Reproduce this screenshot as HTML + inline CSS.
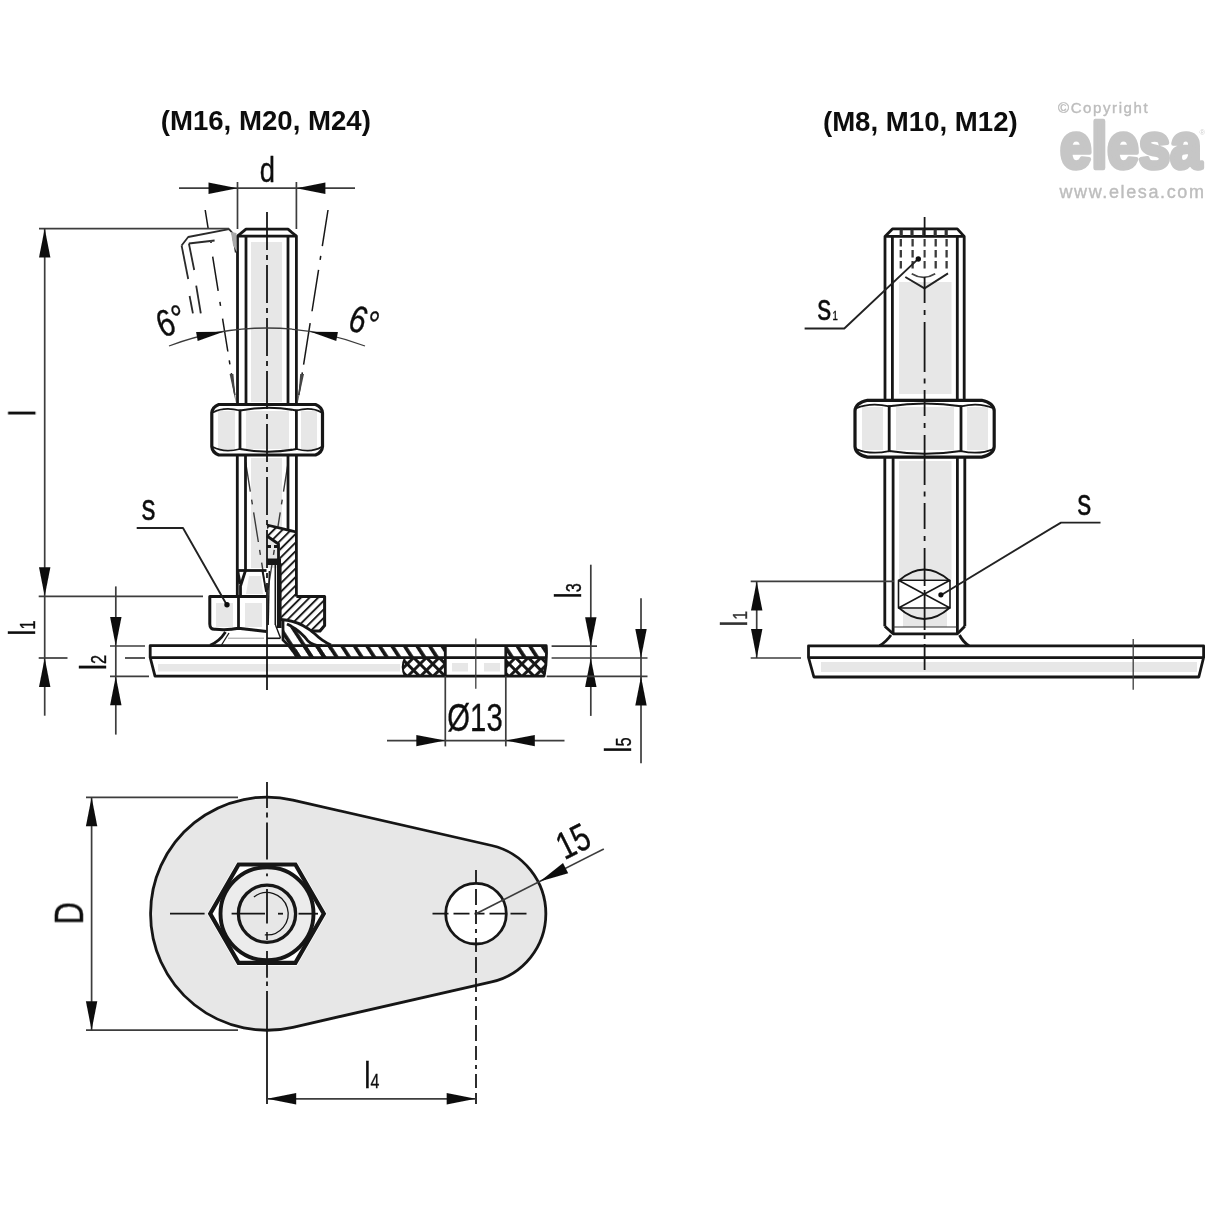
<!DOCTYPE html>
<html><head><meta charset="utf-8"><title>Drawing</title>
<style>
html,body{margin:0;padding:0;background:#fff;}
svg{display:block;font-family:"Liberation Sans",sans-serif;}
</style></head><body>
<svg width="1214" height="1214" viewBox="0 0 1214 1214">
<defs>
<pattern id="h45" width="7" height="7" patternUnits="userSpaceOnUse" patternTransform="rotate(-45)"><line x1="0" y1="0" x2="7" y2="0" stroke="#161616" stroke-width="2.6"/></pattern>
<pattern id="h45b" width="6.1" height="6.1" patternUnits="userSpaceOnUse" patternTransform="rotate(-45)"><line x1="0" y1="1" x2="6.1" y2="1" stroke="#161616" stroke-width="1.9"/></pattern>
<pattern id="h135" width="10.5" height="10.5" patternUnits="userSpaceOnUse" patternTransform="rotate(57)"><line x1="0" y1="2" x2="10.5" y2="2" stroke="#161616" stroke-width="3.7"/></pattern>
<pattern id="xh" width="9" height="9" patternUnits="userSpaceOnUse" patternTransform="rotate(45)"><path d="M0 1.5H9M1.5 0V9" stroke="#161616" stroke-width="2.9"/></pattern>
<filter id="soft" x="-2%" y="-2%" width="104%" height="104%"><feGaussianBlur stdDeviation="0.5"/></filter>
</defs>
<rect width="1214" height="1214" fill="#fff"/>
<g filter="url(#soft)">
<text transform="translate(265.8,129.6) rotate(0) scale(1,1)" font-size="27.6" text-anchor="middle" font-weight="bold" fill="#111" stroke="#111" stroke-width="0">(M16, M20, M24)</text>
<text transform="translate(920.3,130.5) rotate(0) scale(1,1)" font-size="27.6" text-anchor="middle" font-weight="bold" fill="#111" stroke="#111" stroke-width="0">(M8, M10, M12)</text>
<text x="1058" y="113" font-size="15" fill="#bdbdbd" stroke="#bdbdbd" stroke-width="0.4" letter-spacing="1.6">©Copyright</text>
<text transform="translate(1060,167.8) scale(0.885,1)" font-size="64" font-weight="bold" fill="#c6c6c6" stroke="#c6c6c6" stroke-width="4.6" stroke-linejoin="round" letter-spacing="0">elesa</text>
<text x="1059.5" y="197.6" font-size="18" fill="#bdbdbd" stroke="#bdbdbd" stroke-width="0.4" letter-spacing="1.62">www.elesa.com</text>
<text x="1199.5" y="134.5" font-size="7.5" fill="#cfcfcf">®</text>
<rect x="251.0" y="242.0" width="31.0" height="160.0" fill="#e7e7e7"/>
<rect x="251.0" y="458.0" width="31.0" height="110.0" fill="#e7e7e7"/>
<rect x="218.0" y="411.0" width="17.0" height="38.0" fill="#e7e7e7"/>
<rect x="246.0" y="411.0" width="43.0" height="38.0" fill="#e7e7e7"/>
<rect x="301.0" y="411.0" width="16.0" height="38.0" fill="#e7e7e7"/>
<rect x="216.0" y="603.0" width="17.0" height="24.0" fill="#e7e7e7"/>
<rect x="245.0" y="603.0" width="17.0" height="24.0" fill="#e7e7e7"/>
<polygon points="249,576 261,576 263,594 246,594" fill="#e7e7e7"/>
<rect x="158.0" y="664.0" width="242.0" height="7.5" fill="#e7e7e7"/>
<rect x="452.0" y="663.0" width="16.0" height="8.5" fill="#e7e7e7"/>
<rect x="484.0" y="663.0" width="16.0" height="8.5" fill="#e7e7e7"/>
<path d="M237.5 404 V236.2 L246 229.2 H288 L296.4 236.2 V404" stroke="#161616" stroke-width="2.8" fill="none" stroke-linejoin="round"/>
<line x1="237.5" y1="236.2" x2="296.4" y2="236.2" stroke="#161616" stroke-width="2.8" stroke-linecap="butt"/>
<line x1="246.0" y1="236.2" x2="246.0" y2="404.0" stroke="#161616" stroke-width="2.8" stroke-linecap="butt"/>
<line x1="288.0" y1="236.2" x2="288.0" y2="404.0" stroke="#161616" stroke-width="2.8" stroke-linecap="butt"/>
<path d="M211.8 413.0 Q212.3 407.0 218.8 404.5 H315.5 Q322.0 407.0 322.5 413.0 V446.5 Q322.0 452.5 315.5 455 H218.8 Q212.3 452.5 211.8 446.5 Z" stroke="#161616" stroke-width="3.2" fill="none" stroke-linejoin="round"/>
<line x1="240.0" y1="409.5" x2="240.0" y2="450.0" stroke="#161616" stroke-width="2.8" stroke-linecap="butt"/>
<line x1="296.4" y1="409.5" x2="296.4" y2="450.0" stroke="#161616" stroke-width="2.8" stroke-linecap="butt"/>
<path d="M240 410.5 Q268.2 405.0 296.4 410.5" stroke="#161616" stroke-width="2.0" fill="none" stroke-linejoin="round"/>
<path d="M240 449 Q268.2 454.5 296.4 449" stroke="#161616" stroke-width="2.0" fill="none" stroke-linejoin="round"/>
<path d="M212.8 412.5 Q223.9 406.5 240 410.5" stroke="#161616" stroke-width="1.8" fill="none" stroke-linejoin="round"/>
<path d="M321.5 412.5 Q311.45 406.5 296.4 410.5" stroke="#161616" stroke-width="1.8" fill="none" stroke-linejoin="round"/>
<path d="M212.8 447 Q223.9 453 240 449" stroke="#161616" stroke-width="1.8" fill="none" stroke-linejoin="round"/>
<path d="M321.5 447 Q311.45 453 296.4 449" stroke="#161616" stroke-width="1.8" fill="none" stroke-linejoin="round"/>
<path d="M266.5 596.5 H209.8 V624 Q209.8 629.5 215 629.3 Q228 630.5 238.4 628.3 L266.5 631.5" stroke="#161616" stroke-width="3.0" fill="none" stroke-linejoin="round"/>
<line x1="238.5" y1="596.5" x2="238.5" y2="629.0" stroke="#161616" stroke-width="2.8" stroke-linecap="butt"/>
<path d="M225.5 632 Q219 642 210 645.2" stroke="#161616" stroke-width="2.8" fill="none" stroke-linejoin="round"/>
<path d="M229 633 L221.5 645" stroke="#161616" stroke-width="1.3" fill="none" stroke-linejoin="round"/>
<line x1="228.0" y1="638.2" x2="264.0" y2="638.2" stroke="#9a9a9a" stroke-width="1" stroke-linecap="butt"/>
<line x1="245.6" y1="462" x2="266.0" y2="590" stroke="#3a3a3a" stroke-width="1.4" stroke-dasharray="30 8 5 8"/>
<line x1="288.2" y1="462" x2="267.9" y2="590" stroke="#3a3a3a" stroke-width="1.4" stroke-dasharray="30 8 5 8"/>
<path d="M267 525 L296.4 532 V596.5 H324.6 V625.5 L320 631 H312 Q298 620.5 281 619.5 V565 H279.5 V545 L267 536 Z" stroke="none" stroke-width="0.1" fill="#fff" stroke-linejoin="round"/>
<path d="M267 525 L296.4 532 V596.5 H324.6 V625.5 L320 631 H312 Q298 620.5 281 619.5 V565 H279.5 V545 L267 536 Z" stroke="none" stroke-width="0.1" fill="url(#h45b)" stroke-linejoin="round"/>
<path d="M267 525 L296.4 532" stroke="#161616" stroke-width="2.8" fill="none" stroke-linejoin="round"/>
<path d="M296.4 596.5 H324.6 V625.5 L320 631 H311" stroke="#161616" stroke-width="3.0" fill="none" stroke-linejoin="round"/>
<path d="M281 619.5 Q300 620.5 315 634 Q322 641 331 645" stroke="#161616" stroke-width="2.8" fill="none" stroke-linejoin="round"/>
<rect x="267.0" y="558.5" width="14.0" height="6.5" fill="#161616"/>
<line x1="279.3" y1="563.0" x2="279.3" y2="628.0" stroke="#161616" stroke-width="4.6" stroke-linecap="butt"/>
<line x1="275.3" y1="565.0" x2="275.3" y2="625.0" stroke="#161616" stroke-width="1.6" stroke-linecap="butt"/>
<path d="M269.3 571 L268.2 625" stroke="#161616" stroke-width="1.4" fill="none" stroke-linejoin="round"/>
<path d="M267 536 L278.5 544 V559" stroke="#161616" stroke-width="2.8" fill="none" stroke-linejoin="round"/>
<line x1="267.0" y1="546.5" x2="278.0" y2="546.5" stroke="#161616" stroke-width="2.8" stroke-dasharray="4 3" stroke-linecap="butt"/>
<path d="M267 638.3 H280.5" stroke="#161616" stroke-width="1.6" fill="none" stroke-linejoin="round"/>
<path d="M275.5 625 L280.5 638" stroke="#161616" stroke-width="1.4" fill="none" stroke-linejoin="round"/>
<path d="M283 625 Q297 627 309 641 Q313 645.5 322 645.5 H330 V657.6 H297 Q289 646 283 640 Z" stroke="none" stroke-width="0.1" fill="#fff" stroke-linejoin="round"/>
<path d="M283 625 Q297 627 309 641 Q313 645.5 322 645.5 H330 V657.6 H297 Q289 646 283 640 Z" stroke="none" stroke-width="0.1" fill="url(#h135)" stroke-linejoin="round"/>
<path d="M283 621 V640 Q291 647 297 657.6" stroke="#161616" stroke-width="2.8" fill="none" stroke-linejoin="round"/>
<path d="M287 624 Q300 630 308 641 Q313 646 322 645.5" stroke="#161616" stroke-width="2.8" fill="none" stroke-linejoin="round"/>
<line x1="237.3" y1="455.0" x2="237.3" y2="596.5" stroke="#161616" stroke-width="2.8" stroke-linecap="butt"/>
<line x1="245.5" y1="455.0" x2="245.5" y2="570.5" stroke="#161616" stroke-width="2.8" stroke-linecap="butt"/>
<line x1="288.0" y1="455.0" x2="288.0" y2="531.0" stroke="#161616" stroke-width="2.8" stroke-linecap="butt"/>
<line x1="296.4" y1="455.0" x2="296.4" y2="596.5" stroke="#161616" stroke-width="2.8" stroke-linecap="butt"/>
<line x1="237.3" y1="570.5" x2="266.5" y2="570.5" stroke="#161616" stroke-width="2.8" stroke-linecap="butt"/>
<path d="M245.5 570.5 L240.5 586 V596.5" stroke="#161616" stroke-width="2.8" fill="none" stroke-linejoin="round"/>
<path d="M237.6 571 L240 584" stroke="#161616" stroke-width="3.1" fill="none" stroke-linejoin="round"/>
<path d="M262.3 570.5 L266 592" stroke="#161616" stroke-width="1.6" fill="none" stroke-linejoin="round"/>
<rect x="296.0" y="646.0" width="149.3" height="11.6" fill="url(#h135)"/>
<rect x="505.8" y="646.0" width="40.0" height="11.6" fill="url(#h135)"/>
<path d="M405 657.6 H445.3 V676.2 H405 Q400.5 667 405 657.6 Z" fill="url(#xh)"/>
<path d="M505.8 657.6 H546 L544 676.2 H505.8 Z" fill="url(#xh)"/>
<path d="M405 657.6 Q400.5 667 405 676.2" stroke="#161616" stroke-width="2" fill="none" stroke-linejoin="round"/>
<path d="M150.2 645.6 H546.2 Q547.4 661 544 676.2 H155 L150.2 657.5 Z" stroke="#161616" stroke-width="2.8" fill="none" stroke-linejoin="round"/>
<line x1="150.2" y1="657.6" x2="546.5" y2="657.6" stroke="#161616" stroke-width="2.8" stroke-linecap="butt"/>
<line x1="445.3" y1="645.6" x2="445.3" y2="676.2" stroke="#161616" stroke-width="2.8" stroke-linecap="butt"/>
<line x1="505.8" y1="645.6" x2="505.8" y2="676.2" stroke="#161616" stroke-width="2.8" stroke-linecap="butt"/>
<line x1="267.0" y1="212.0" x2="267.0" y2="596.0" stroke="#161616" stroke-width="1.8" stroke-dasharray="38 5 5 5" stroke-linecap="butt"/>
<line x1="267.0" y1="596.0" x2="267.0" y2="690.0" stroke="#161616" stroke-width="1.8" stroke-linecap="butt"/>
<line x1="475.8" y1="638.5" x2="475.8" y2="688.7" stroke="#3c3c3c" stroke-width="1.3" stroke-linecap="butt"/>
<line x1="205.2" y1="210" x2="234.8" y2="395" stroke="#161616" stroke-width="1.5" stroke-dasharray="18.6 28.7 34.7 11 4 12.9 33.4 9 4 9 40"/>
<polygon points="233.4,374 229.6,374 235.9,403" fill="#444"/>
<line x1="328.0" y1="210" x2="298.8" y2="395" stroke="#161616" stroke-width="1.5" stroke-dasharray="36.5 10 4 10 42 12 42 8 4 8 30"/>
<polygon points="300.2,374 304.0,374 297.7,403" fill="#444"/>
<path d="M169.0 346.0 A276 276 0 0 1 365.0 346.0" stroke="#3c3c3c" stroke-width="1.3" fill="none" stroke-linejoin="round"/>
<polygon points="223.5,331.8 197.7,340.9 196.1,332.1" fill="#111"/>
<polygon points="310.5,331.8 337.9,332.1 336.3,340.9" fill="#111"/>
<text transform="translate(176.0,333.0) rotate(-22) scale(0.78,1)" font-size="38" text-anchor="middle" font-weight="normal" fill="#111" stroke="#111" stroke-width="0.35">6°</text>
<text transform="translate(359.5,333.5) rotate(20) scale(0.78,1)" font-size="38" text-anchor="middle" font-weight="normal" fill="#111" stroke="#111" stroke-width="0.35">6°</text>
<path d="M181.6 245.5 L188.2 237 L229 229.2 L232.5 233 L235.8 252.5" stroke="#2a2a2a" stroke-width="1.8" fill="none" stroke-linejoin="round"/>
<path d="M181.6 245.5 L188.2 279" stroke="#2a2a2a" stroke-width="1.8" fill="none" stroke-linejoin="round"/>
<path d="M189.6 296 L192.9 313.4" stroke="#2a2a2a" stroke-width="1.8" fill="none" stroke-linejoin="round"/>
<path d="M188.9 243.5 L194.2 270" stroke="#2a2a2a" stroke-width="1.8" fill="none" stroke-linejoin="round"/>
<path d="M196.2 285.7 L200.8 313.4" stroke="#2a2a2a" stroke-width="1.8" fill="none" stroke-linejoin="round"/>
<path d="M188.9 243.5 L214.6 240.5" stroke="#2a2a2a" stroke-width="1.8" fill="none" stroke-linejoin="round"/>
<path d="M211 240.6 V243" stroke="#444" stroke-width="2" fill="none" stroke-linejoin="round"/>
<polygon points="231,232 236.5,233 236.8,252 233,245" fill="#aaa"/>
<line x1="237.5" y1="182.0" x2="237.5" y2="229.0" stroke="#3c3c3c" stroke-width="1.7" stroke-linecap="butt"/>
<line x1="296.4" y1="182.0" x2="296.4" y2="229.0" stroke="#3c3c3c" stroke-width="1.7" stroke-linecap="butt"/>
<line x1="179.0" y1="188.2" x2="355.0" y2="188.2" stroke="#3c3c3c" stroke-width="1.7" stroke-linecap="butt"/>
<polygon points="237.5,188.2 208.5,193.9 208.5,182.5" fill="#111"/>
<polygon points="296.4,188.2 325.4,182.5 325.4,193.9" fill="#111"/>
<text transform="translate(267.3,181.6) rotate(0) scale(0.76,1)" font-size="36" text-anchor="middle" font-weight="normal" fill="#111" stroke="#111" stroke-width="0.35">d</text>
<line x1="39.0" y1="228.6" x2="229.0" y2="228.6" stroke="#3c3c3c" stroke-width="1.7" stroke-linecap="butt"/>
<line x1="44.7" y1="228.6" x2="44.7" y2="596.3" stroke="#3c3c3c" stroke-width="1.7" stroke-linecap="butt"/>
<polygon points="44.7,228.6 50.4,257.6 39.0,257.6" fill="#111"/>
<polygon points="44.7,596.3 39.0,567.3 50.4,567.3" fill="#111"/>
<line x1="38.7" y1="596.3" x2="203.0" y2="596.3" stroke="#3c3c3c" stroke-width="1.7" stroke-linecap="butt"/>
<text transform="translate(35.3,416.2) rotate(-90) scale(0.76,1)" font-size="37" text-anchor="start" font-weight="normal" fill="#111" stroke="#111" stroke-width="0.35">l</text>
<line x1="38.7" y1="658.0" x2="67.5" y2="658.0" stroke="#3c3c3c" stroke-width="1.7" stroke-linecap="butt"/>
<line x1="44.7" y1="596.3" x2="44.7" y2="715.7" stroke="#3c3c3c" stroke-width="1.7" stroke-linecap="butt"/>
<polygon points="44.7,658.0 50.4,687.0 39.0,687.0" fill="#111"/>
<text transform="translate(35.4,635.8) rotate(-90) scale(0.76,1)" font-size="37" text-anchor="start" font-weight="normal" fill="#111" stroke="#111" stroke-width="0.35">l<tspan font-size="21.5">1</tspan></text>
<line x1="115.8" y1="586.4" x2="115.8" y2="734.6" stroke="#3c3c3c" stroke-width="1.7" stroke-linecap="butt"/>
<polygon points="115.8,646.0 110.1,617.0 121.5,617.0" fill="#111"/>
<polygon points="115.8,676.2 121.5,705.2 110.1,705.2" fill="#111"/>
<line x1="110.0" y1="646.0" x2="145.0" y2="646.0" stroke="#3c3c3c" stroke-width="1.7" stroke-linecap="butt"/>
<line x1="125.0" y1="658.0" x2="145.0" y2="658.0" stroke="#3c3c3c" stroke-width="1.7" stroke-linecap="butt"/>
<line x1="110.0" y1="676.4" x2="149.0" y2="676.4" stroke="#3c3c3c" stroke-width="1.7" stroke-linecap="butt"/>
<text transform="translate(106.3,670.3) rotate(-90) scale(0.76,1)" font-size="37" text-anchor="start" font-weight="normal" fill="#111" stroke="#111" stroke-width="0.35">l<tspan font-size="21.5">2</tspan></text>
<path d="M136.7 528 H183 L226.3 604" stroke="#222" stroke-width="1.9" fill="none" stroke-linejoin="round"/>
<circle cx="227.0" cy="604.8" r="2.7" stroke="none" stroke-width="0" fill="#111"/>
<text transform="translate(148.6,520.0) rotate(0) scale(0.76,1)" font-size="37" text-anchor="middle" font-weight="normal" fill="#111" stroke="#111" stroke-width="0.35">s</text>
<line x1="590.8" y1="564.7" x2="590.8" y2="715.9" stroke="#3c3c3c" stroke-width="1.7" stroke-linecap="butt"/>
<polygon points="590.8,646.2 585.1,617.2 596.5,617.2" fill="#111"/>
<polygon points="590.8,658.0 596.5,687.0 585.1,687.0" fill="#111"/>
<line x1="551.6" y1="646.2" x2="597.0" y2="646.2" stroke="#3c3c3c" stroke-width="1.7" stroke-linecap="butt"/>
<line x1="551.6" y1="658.0" x2="647.5" y2="658.0" stroke="#3c3c3c" stroke-width="1.7" stroke-linecap="butt"/>
<line x1="546.7" y1="676.4" x2="647.5" y2="676.4" stroke="#3c3c3c" stroke-width="1.7" stroke-linecap="butt"/>
<text transform="translate(581.3,598.6) rotate(-90) scale(0.76,1)" font-size="37" text-anchor="start" font-weight="normal" fill="#111" stroke="#111" stroke-width="0.35">l<tspan font-size="21.5">3</tspan></text>
<line x1="641.0" y1="598.3" x2="641.0" y2="763.3" stroke="#3c3c3c" stroke-width="1.7" stroke-linecap="butt"/>
<polygon points="641.0,658.0 635.3,629.0 646.7,629.0" fill="#111"/>
<polygon points="641.0,676.4 646.7,705.4 635.3,705.4" fill="#111"/>
<text transform="translate(630.7,752.8) rotate(-90) scale(0.76,1)" font-size="37" text-anchor="start" font-weight="normal" fill="#111" stroke="#111" stroke-width="0.35">l<tspan font-size="21.5">5</tspan></text>
<line x1="445.3" y1="676.0" x2="445.3" y2="746.4" stroke="#3c3c3c" stroke-width="1.7" stroke-linecap="butt"/>
<line x1="505.8" y1="676.0" x2="505.8" y2="746.4" stroke="#3c3c3c" stroke-width="1.7" stroke-linecap="butt"/>
<line x1="387.0" y1="740.6" x2="564.5" y2="740.6" stroke="#3c3c3c" stroke-width="1.7" stroke-linecap="butt"/>
<polygon points="445.3,740.6 416.3,746.3 416.3,734.9" fill="#111"/>
<polygon points="505.8,740.6 534.8,734.9 534.8,746.3" fill="#111"/>
<text transform="translate(475.0,730.7) rotate(0) scale(0.76,1)" font-size="38.5" text-anchor="middle" font-weight="normal" fill="#111" stroke="#111" stroke-width="0.35">Ø13</text>
<path d="M292.9 800.1 L491.6 845.5 A70 70 0 0 1 491.6 981.9 L292.9 1027.3 A116.5 116.5 0 1 1 292.9 800.1 Z" stroke="#161616" stroke-width="2.8" fill="#e7e7e7" stroke-linejoin="round"/>
<circle cx="476.0" cy="913.7" r="30.3" stroke="#161616" stroke-width="2.8" fill="#fff"/>
<polygon points="327.0,913.7 297.0,965.7 237.0,965.7 207.0,913.7 237.0,861.7 297.0,861.7" fill="#fff"/>
<polygon points="323.8,913.7 295.4,962.9 238.6,962.9 210.2,913.7 238.6,864.5 295.4,864.5" fill="none" stroke="#161616" stroke-width="4.2" stroke-linejoin="miter"/>
<circle cx="267.0" cy="913.7" r="46.5" stroke="#161616" stroke-width="3.9" fill="#ececec"/>
<circle cx="267.0" cy="913.7" r="28.6" stroke="#161616" stroke-width="3.3" fill="#e7e7e7"/>
<path d="M253.9 897.0 A21.2 21.2 0 1 1 264.8 934.8" stroke="#161616" stroke-width="1.3" fill="none" stroke-linejoin="round"/>
<line x1="170.0" y1="913.7" x2="204.6" y2="913.7" stroke="#161616" stroke-width="1.7" stroke-linecap="butt"/>
<line x1="231.6" y1="913.7" x2="265.0" y2="913.7" stroke="#161616" stroke-width="1.8" stroke-linecap="butt"/>
<line x1="278.0" y1="913.7" x2="283.0" y2="913.7" stroke="#161616" stroke-width="1.8" stroke-linecap="butt"/>
<line x1="298.5" y1="913.7" x2="318.0" y2="913.7" stroke="#161616" stroke-width="1.8" stroke-linecap="butt"/>
<line x1="267.0" y1="782.0" x2="267.0" y2="859.6" stroke="#161616" stroke-width="1.8" stroke-dasharray="26 4.5 5 5 40" stroke-linecap="butt"/>
<line x1="267.0" y1="873.4" x2="267.0" y2="876.3" stroke="#161616" stroke-width="1.8" stroke-linecap="butt"/>
<line x1="267.0" y1="889.0" x2="267.0" y2="923.6" stroke="#161616" stroke-width="1.8" stroke-linecap="butt"/>
<line x1="267.0" y1="932.0" x2="267.0" y2="940.0" stroke="#161616" stroke-width="1.6" stroke-linecap="butt"/>
<line x1="267.0" y1="951.0" x2="267.0" y2="977.7" stroke="#161616" stroke-width="1.8" stroke-linecap="butt"/>
<line x1="267.0" y1="981.5" x2="267.0" y2="986.0" stroke="#161616" stroke-width="1.8" stroke-linecap="butt"/>
<line x1="267.0" y1="991.0" x2="267.0" y2="1104.0" stroke="#161616" stroke-width="1.8" stroke-linecap="butt"/>
<line x1="432.5" y1="913.7" x2="527.8" y2="913.7" stroke="#161616" stroke-width="1.8" stroke-dasharray="16 5 16 5 10 5 16 5 16 5" stroke-linecap="butt"/>
<line x1="476.0" y1="870.0" x2="476.0" y2="1104.0" stroke="#161616" stroke-width="1.8" stroke-dasharray="14 5 16 5 14 5 4 5" stroke-linecap="butt"/>
<line x1="86.0" y1="797.3" x2="238.0" y2="797.3" stroke="#3c3c3c" stroke-width="1.7" stroke-linecap="butt"/>
<line x1="86.0" y1="1030.2" x2="238.0" y2="1030.2" stroke="#3c3c3c" stroke-width="1.7" stroke-linecap="butt"/>
<line x1="91.6" y1="797.3" x2="91.6" y2="1030.2" stroke="#3c3c3c" stroke-width="1.7" stroke-linecap="butt"/>
<polygon points="91.6,797.3 97.3,826.3 85.9,826.3" fill="#111"/>
<polygon points="91.6,1030.2 85.9,1001.2 97.3,1001.2" fill="#111"/>
<text transform="translate(82.9,913.2) rotate(-90) scale(0.76,1)" font-size="40.5" text-anchor="middle" font-weight="normal" fill="#111" stroke="#111" stroke-width="0.35">D</text>
<line x1="267.2" y1="1098.8" x2="475.7" y2="1098.8" stroke="#3c3c3c" stroke-width="1.7" stroke-linecap="butt"/>
<polygon points="267.2,1098.8 296.2,1093.1 296.2,1104.5" fill="#111"/>
<polygon points="475.7,1098.8 446.7,1104.5 446.7,1093.1" fill="#111"/>
<text transform="translate(364.2,1088.0) rotate(0) scale(0.76,1)" font-size="37" text-anchor="start" font-weight="normal" fill="#111" stroke="#111" stroke-width="0.35">l<tspan font-size="21">4</tspan></text>
<line x1="476.0" y1="913.7" x2="603.8" y2="848.9" stroke="#3c3c3c" stroke-width="1.7" stroke-linecap="butt"/>
<polygon points="539.8,881.4 563.0,863.1 568.2,873.3" fill="#111"/>
<text transform="translate(579.0,853.0) rotate(-26.6) scale(0.76,1)" font-size="38.5" text-anchor="middle" font-weight="normal" fill="#111" stroke="#111" stroke-width="0.35">15</text>
<rect x="899.0" y="282.0" width="52.5" height="112.0" fill="#e7e7e7"/>
<rect x="899.0" y="461.0" width="52.5" height="118.0" fill="#e7e7e7"/>
<rect x="903.0" y="609.0" width="44.0" height="18.0" fill="#e7e7e7"/>
<rect x="862.0" y="407.0" width="21.0" height="43.0" fill="#e7e7e7"/>
<rect x="896.0" y="407.0" width="58.0" height="43.0" fill="#e7e7e7"/>
<rect x="967.0" y="407.0" width="21.0" height="43.0" fill="#e7e7e7"/>
<rect x="821.0" y="662.0" width="376.0" height="10.0" fill="#e7e7e7"/>
<path d="M885 400 V236.4 L892.4 228.9 H957.3 L964.2 236.4 V400" stroke="#161616" stroke-width="2.8" fill="none" stroke-linejoin="round"/>
<line x1="885.0" y1="236.4" x2="964.2" y2="236.4" stroke="#161616" stroke-width="2.8" stroke-linecap="butt"/>
<line x1="892.4" y1="236.4" x2="892.4" y2="400.0" stroke="#161616" stroke-width="2.8" stroke-linecap="butt"/>
<line x1="957.3" y1="236.4" x2="957.3" y2="400.0" stroke="#161616" stroke-width="2.8" stroke-linecap="butt"/>
<line x1="900.8" y1="239.0" x2="900.8" y2="271.0" stroke="#3a3a3a" stroke-width="2.3" stroke-dasharray="7.5 3.5" stroke-linecap="butt"/>
<line x1="912.6" y1="239.0" x2="912.6" y2="271.0" stroke="#3a3a3a" stroke-width="2.3" stroke-dasharray="7.5 3.5" stroke-linecap="butt"/>
<line x1="935.7" y1="239.0" x2="935.7" y2="271.0" stroke="#3a3a3a" stroke-width="2.3" stroke-dasharray="7.5 3.5" stroke-linecap="butt"/>
<line x1="946.6" y1="239.0" x2="946.6" y2="271.0" stroke="#3a3a3a" stroke-width="2.3" stroke-dasharray="7.5 3.5" stroke-linecap="butt"/>
<line x1="901.2" y1="229.5" x2="901.2" y2="236.0" stroke="#333" stroke-width="3.2" stroke-linecap="butt"/>
<line x1="912.0" y1="229.5" x2="912.0" y2="236.0" stroke="#333" stroke-width="3.2" stroke-linecap="butt"/>
<line x1="923.8" y1="229.5" x2="923.8" y2="236.0" stroke="#333" stroke-width="3.2" stroke-linecap="butt"/>
<line x1="935.2" y1="229.5" x2="935.2" y2="236.0" stroke="#333" stroke-width="3.2" stroke-linecap="butt"/>
<line x1="946.2" y1="229.5" x2="946.2" y2="236.0" stroke="#333" stroke-width="3.2" stroke-linecap="butt"/>
<path d="M905.3 277 L924.5 288.4 L948 273.4" stroke="#222" stroke-width="1.9" fill="none" stroke-linejoin="round"/>
<path d="M911.7 273.8 Q923.5 281 935.2 273.8" stroke="#444" stroke-width="1.7" fill="none" stroke-linejoin="round"/>
<path d="M855 410.8 Q855.5 402.8 867.5 400.3 H981.7 Q993.7 402.8 994.2 410.8 V446.6 Q993.7 454.6 981.7 457.1 H867.5 Q855.5 454.6 855 446.6 Z" stroke="#161616" stroke-width="3.2" fill="none" stroke-linejoin="round"/>
<line x1="889.2" y1="405.3" x2="889.2" y2="452.1" stroke="#161616" stroke-width="2.8" stroke-linecap="butt"/>
<line x1="961.0" y1="405.3" x2="961.0" y2="452.1" stroke="#161616" stroke-width="2.8" stroke-linecap="butt"/>
<path d="M889.2 406.3 Q925.1 400.8 961 406.3" stroke="#161616" stroke-width="2.0" fill="none" stroke-linejoin="round"/>
<path d="M889.2 451.1 Q925.1 456.6 961 451.1" stroke="#161616" stroke-width="2.0" fill="none" stroke-linejoin="round"/>
<path d="M856 408.3 Q870.1 402.3 889.2 406.3" stroke="#161616" stroke-width="1.8" fill="none" stroke-linejoin="round"/>
<path d="M993.2 408.3 Q979.6 402.3 961 406.3" stroke="#161616" stroke-width="1.8" fill="none" stroke-linejoin="round"/>
<path d="M856 449.1 Q870.1 455.1 889.2 451.1" stroke="#161616" stroke-width="1.8" fill="none" stroke-linejoin="round"/>
<path d="M993.2 449.1 Q979.6 455.1 961 451.1" stroke="#161616" stroke-width="1.8" fill="none" stroke-linejoin="round"/>
<line x1="884.8" y1="457.0" x2="884.8" y2="626.3" stroke="#161616" stroke-width="2.8" stroke-linecap="butt"/>
<line x1="964.8" y1="457.0" x2="964.8" y2="626.3" stroke="#161616" stroke-width="2.8" stroke-linecap="butt"/>
<line x1="893.1" y1="457.0" x2="893.1" y2="633.8" stroke="#161616" stroke-width="2.8" stroke-linecap="butt"/>
<line x1="957.4" y1="457.0" x2="957.4" y2="633.8" stroke="#161616" stroke-width="2.8" stroke-linecap="butt"/>
<path d="M884.8 626.3 L893.1 633.8 H957.4 L964.8 626.3" stroke="#161616" stroke-width="2.8" fill="none" stroke-linejoin="round"/>
<path d="M891 635 Q886 642 879.5 645.8" stroke="#161616" stroke-width="2.8" fill="none" stroke-linejoin="round"/>
<path d="M959.5 635 Q963 642 969 645.8" stroke="#161616" stroke-width="2.8" fill="none" stroke-linejoin="round"/>
<line x1="893.0" y1="627.0" x2="957.0" y2="627.0" stroke="#333" stroke-width="1.2" stroke-linecap="butt"/>
<path d="M898.5 580.3 H950 V608 H898.5 Z M898.5 580.3 L950 608 M950 580.3 L898.5 608" stroke="#161616" stroke-width="1.6" fill="none" stroke-linejoin="round"/>
<path d="M898.5 581 Q924.2 558 950 581" stroke="#161616" stroke-width="1.8" fill="none" stroke-linejoin="round"/>
<path d="M898.5 607.5 Q924.2 630.5 950 607.5" stroke="#161616" stroke-width="1.8" fill="none" stroke-linejoin="round"/>
<path d="M808.5 645.8 H1203.6 V657.5 L1198.8 677 H813.9 L808.5 657.5 Z" stroke="#161616" stroke-width="2.8" fill="none" stroke-linejoin="round"/>
<line x1="808.5" y1="657.7" x2="1203.6" y2="657.7" stroke="#161616" stroke-width="2.8" stroke-linecap="butt"/>
<line x1="924.6" y1="217.0" x2="924.6" y2="236.0" stroke="#161616" stroke-width="1.8" stroke-linecap="butt"/>
<line x1="924.6" y1="239.0" x2="924.6" y2="271.0" stroke="#3a3a3a" stroke-width="2.1" stroke-dasharray="7.5 3.5" stroke-linecap="butt"/>
<line x1="924.6" y1="277.0" x2="924.6" y2="586.0" stroke="#161616" stroke-width="1.8" stroke-dasharray="26 7 5 7 50 6.5 5 6.5" stroke-linecap="butt"/>
<line x1="924.6" y1="590.0" x2="924.6" y2="670.0" stroke="#161616" stroke-width="1.8" stroke-dasharray="40 5 4 5 30" stroke-linecap="butt"/>
<line x1="1133.2" y1="639.0" x2="1133.2" y2="689.7" stroke="#3c3c3c" stroke-width="1.3" stroke-linecap="butt"/>
<path d="M804.6 328.5 H844.3 L918.5 258.6" stroke="#222" stroke-width="1.9" fill="none" stroke-linejoin="round"/>
<circle cx="918.3" cy="259.0" r="2.7" stroke="none" stroke-width="0" fill="#111"/>
<text transform="translate(824.4,320.0) rotate(0) scale(0.76,1)" font-size="37" text-anchor="middle" font-weight="normal" fill="#111" stroke="#111" stroke-width="0.35">s</text>
<text transform="translate(835.2,320.0) rotate(0) scale(0.8,1)" font-size="12" text-anchor="middle" font-weight="normal" fill="#111" stroke="#111" stroke-width="0.35">1</text>
<path d="M941.3 595 L1061 522.6 H1100.5" stroke="#222" stroke-width="1.9" fill="none" stroke-linejoin="round"/>
<circle cx="940.9" cy="594.8" r="2.6" stroke="none" stroke-width="0" fill="#111"/>
<text transform="translate(1084.3,515.3) rotate(0) scale(0.76,1)" font-size="37" text-anchor="middle" font-weight="normal" fill="#111" stroke="#111" stroke-width="0.35">s</text>
<line x1="750.7" y1="581.4" x2="894.0" y2="581.4" stroke="#3c3c3c" stroke-width="1.7" stroke-linecap="butt"/>
<line x1="750.7" y1="658.0" x2="801.0" y2="658.0" stroke="#3c3c3c" stroke-width="1.7" stroke-linecap="butt"/>
<line x1="756.7" y1="581.4" x2="756.7" y2="658.0" stroke="#3c3c3c" stroke-width="1.7" stroke-linecap="butt"/>
<polygon points="756.7,581.4 762.4,610.4 751.0,610.4" fill="#111"/>
<polygon points="756.7,658.0 751.0,629.0 762.4,629.0" fill="#111"/>
<text transform="translate(746.6,626.8) rotate(-90) scale(0.76,1)" font-size="37" text-anchor="start" font-weight="normal" fill="#333" stroke="#333" stroke-width="0.35">l<tspan font-size="21" dx="1">1</tspan></text>
</g>
</svg>
</body></html>
